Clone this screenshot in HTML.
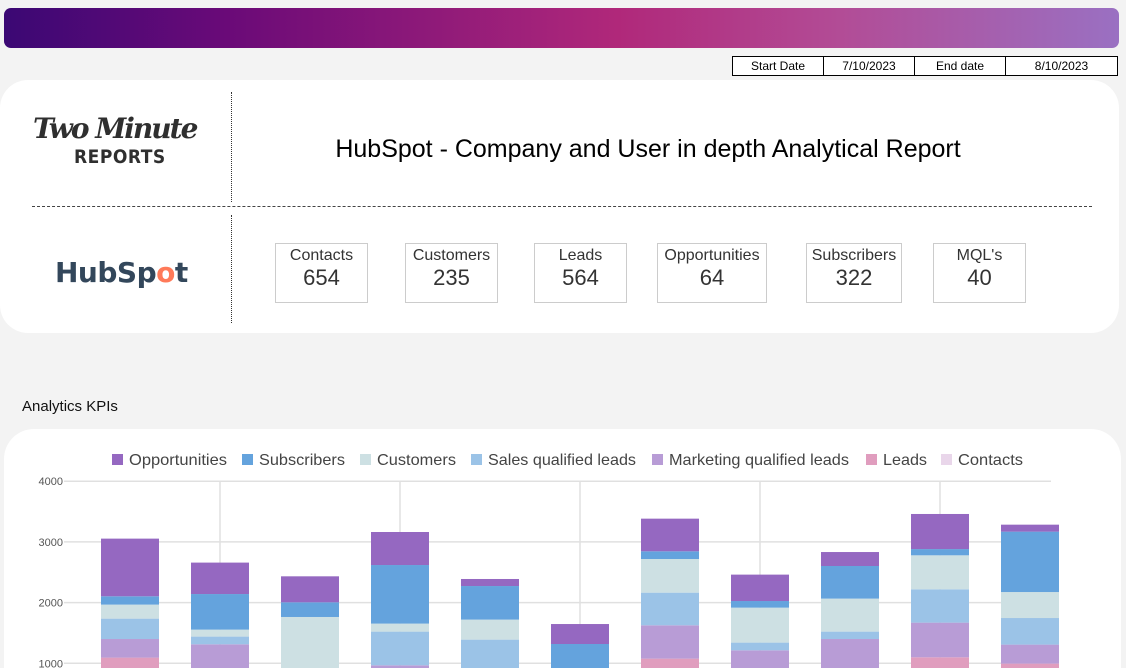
<!DOCTYPE html>
<html><head><meta charset="utf-8">
<style>
*{margin:0;padding:0;box-sizing:border-box}
html,body{width:1126px;height:668px;overflow:hidden}
body{background:#f3f3f3;font-family:"Liberation Sans",Arial,sans-serif;position:relative}
.abs{position:absolute}
#banner{left:4px;top:8px;width:1115px;height:40px;border-radius:7px;background:linear-gradient(90deg,#3b0874 0%,#6a0a78 20%,#b0287a 55%,#b24c96 75%,#9a70c2 100%)}
#dates{left:733px;top:56px;display:flex;height:20px;background:#fff}
#dates div{border:1px solid #000;margin-left:-1px;font-size:12px;text-align:center;line-height:18px;color:#000}
#card1{left:0;top:80px;width:1119px;height:253px;background:#fff;border-radius:28px}
.vdot{border-left:1px dotted #333;width:0}
.kpi{position:absolute;top:243px;height:60px;border:1px solid #ccc;text-align:center;color:#333}
.kpi .l{font-size:16px;margin-top:3px}
.kpi .v{font-size:22px;margin-top:0px}
#card2{left:4px;top:429px;width:1117px;height:239px;background:#fff;border-radius:30px 30px 0 0}
</style></head><body>
<div id="banner" class="abs"></div>
<div id="dates" class="abs">
 <div style="width:92px">Start Date</div>
 <div style="width:92px">7/10/2023</div>
 <div style="width:92px">End date</div>
 <div style="width:113px">8/10/2023</div>
</div>
<div id="card1" class="abs"></div>
<div class="abs" style="left:33px;top:112px;font-family:'DejaVu Serif',serif;font-style:italic;font-weight:bold;font-size:28px;color:#2f2f2f;letter-spacing:-2px">Two Minute</div>
<div class="abs" style="left:74px;top:146px;font-family:'DejaVu Sans Condensed','DejaVu Sans',sans-serif;font-weight:bold;font-size:19px;color:#2f2f2f;letter-spacing:0.5px">REPORTS</div>
<div class="abs" style="left:55px;top:256px;font-family:'DejaVu Sans',sans-serif;font-weight:bold;font-size:28px;color:#33475b;letter-spacing:-0.5px">Hub<span>Sp</span><span style="color:#ff7a59">o</span>t</div>
<div class="abs vdot" style="left:231px;top:92px;height:110px"></div>
<div class="abs vdot" style="left:231px;top:215px;height:108px"></div>
<div class="abs" style="left:32px;top:206px;width:1060px;border-top:1px dashed #444"></div>
<div class="abs" style="left:232px;width:832px;top:135px;text-align:center;font-size:25px;color:#000">HubSpot - Company and User in depth Analytical Report</div>
<div class="kpi" style="left:275px;width:93px"><div class="l">Contacts</div><div class="v">654</div></div>
<div class="kpi" style="left:405px;width:93px"><div class="l">Customers</div><div class="v">235</div></div>
<div class="kpi" style="left:534px;width:93px"><div class="l">Leads</div><div class="v">564</div></div>
<div class="kpi" style="left:657px;width:110px"><div class="l">Opportunities</div><div class="v">64</div></div>
<div class="kpi" style="left:806px;width:96px"><div class="l">Subscribers</div><div class="v">322</div></div>
<div class="kpi" style="left:933px;width:93px"><div class="l">MQL's</div><div class="v">40</div></div>
<div class="abs" style="left:22px;top:398px;font-size:15px;color:#111">Analytics KPIs</div>
<div id="card2" class="abs"></div>
<svg class="abs" style="left:0;top:0" width="1126" height="668" id="chart"></svg>
<script>
const seriesNames=["Contacts","Leads","Marketing qualified leads","Sales qualified leads","Customers","Subscribers","Opportunities"];
const contacts=[600,500,400,500,400,400,600,500,500,600,600];
const leads=[494,350,250,300,250,250,477,350,350,499,395];
const mql=[306,463,150,167,200,150,549,364,550,571,313];
const sql=[336,127,100,555,540,50,538,127,122,549,438];
const customers=[231,115,863,132,330,50,554,576,544,560,428];
const subscribers=[137,586,242,965,553,418,127,109,537,103,995];
const opportunities=[950,518,428,544,116,329,538,435,230,578,115];
const yTicks=[1000,2000,3000,4000];
const series=[contacts,leads,mql,sql,customers,subscribers,opportunities];
const colors=["#e9d6ea","#e09dbe","#b89cd6","#9bc3e7","#cde0e3","#64a3dd","#9568c1"];
const svg=document.getElementById('chart');
const NS="http://www.w3.org/2000/svg";
const y=v=>724-v*0.0607;
const x=i=>130+i*90;
function mk(t,a){const e=document.createElementNS(NS,t);for(const k in a)e.setAttribute(k,a[k]);svg.appendChild(e);return e;}
yTicks.forEach(t=>{
 const l=mk('line',{x1:64,x2:1051,y1:y(t),y2:y(t),stroke:'#e0e0e0','stroke-width':1.5});
 
 
 const tx=mk('text',{x:63,y:y(t)+4,'text-anchor':'end','font-size':11,fill:'#555','font-family':'Liberation Sans, sans-serif'});
 tx.textContent=t;
 
 
});
for(let i=1;i<contacts.length;i+=2){
 const l=mk('line',{x1:x(i),x2:x(i),y1:y(4000),y2:668,stroke:'#e0e0e0','stroke-width':1.5});
 
 
}
for(let i=0;i<contacts.length;i++){
 let cum=0;
 series.forEach((s,k)=>{
  const v=s[i];
  const r=mk('rect',{x:x(i)-29,width:58,y:y(cum+v),height:v*0.0607,fill:colors[k]});
  
  
  cum+=v;
 });
}
const legendOrder=[6,5,4,3,2,1,0];
const legendX=[112,242,360,471,652,866,941];
const legendW=[98,86,79,148,180,44,65];
legendOrder.forEach((k,j)=>{
 const r=mk('rect',{x:legendX[j],y:454,width:11,height:11,fill:colors[k]});
 
 
 const t=mk('text',{x:legendX[j]+17,y:465,'font-size':16,fill:'#444','font-family':'Liberation Sans, sans-serif',textLength:legendW[j],lengthAdjust:'spacingAndGlyphs'});
 t.textContent=seriesNames[k];
 
 
});
</script>
</body></html>
